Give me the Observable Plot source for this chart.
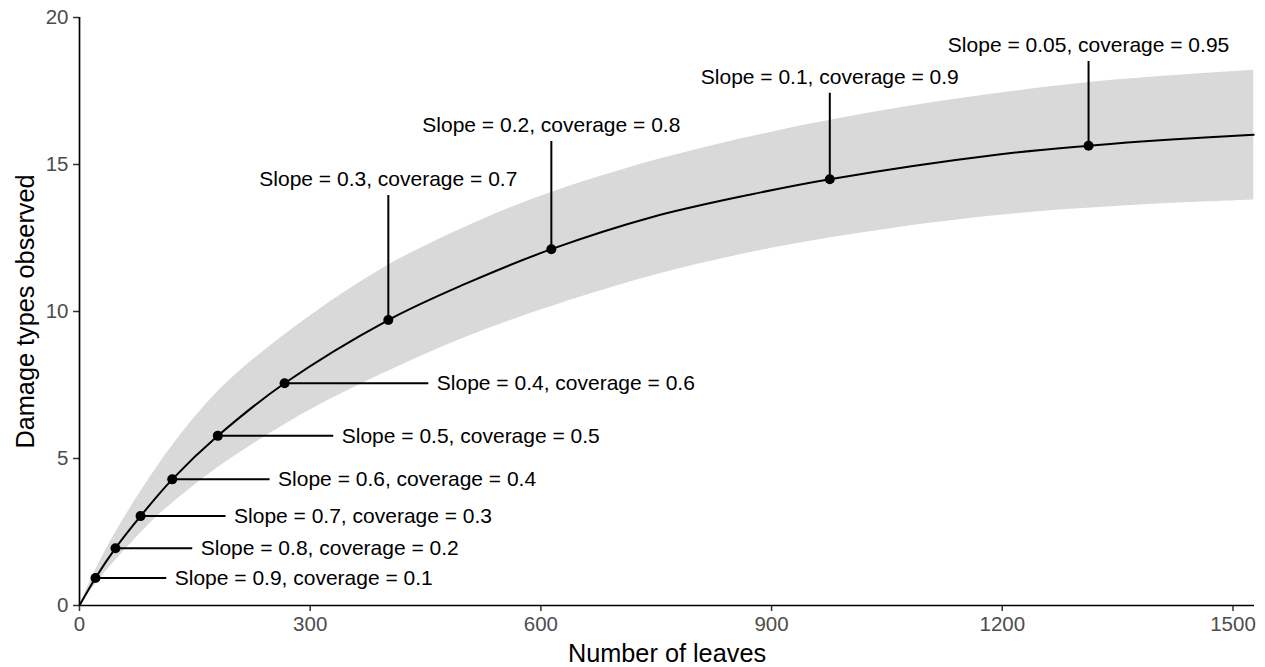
<!DOCTYPE html>
<html>
<head>
<meta charset="utf-8">
<script src="https://cdn.jsdelivr.net/npm/d3@7"></script>
<script src="https://cdn.jsdelivr.net/npm/@observablehq/plot@0.6"></script>
<style>
  html, body { margin: 0; padding: 0; background: #fff; }
  #chart { width: 1265px; height: 667px; }
</style>
</head>
<body>
<div id="chart"></div>
<script>
// ---- data ----
const curveX = [0, 20.8, 46.8, 79.4, 120.6, 179.9, 266.7, 401.6, 500, 613.6, 742.8, 872.9, 975.7, 1198, 1312.2, 1420, 1527];
const curveY = [0, 0.935, 1.95, 3.04, 4.29, 5.77, 7.56, 9.71, 10.92, 12.12, 13.2, 13.98, 14.5, 15.35, 15.64, 15.85, 16.01];

const bandX     = [0, 25, 50, 100, 150, 200, 300, 400, 500, 600, 750, 900, 1050, 1200, 1350, 1527];
const bandLower = [0, 0.86, 1.62, 3.0, 4.1, 5.05, 6.65, 7.95, 9.1, 10.05, 11.25, 12.15, 12.8, 13.28, 13.58, 13.79];
const bandUpper = [0, 1.42, 2.62, 4.68, 6.4, 7.78, 9.85, 11.55, 12.85, 13.92, 15.15, 16.1, 16.85, 17.44, 17.88, 18.21];

const slopes    = [0.9, 0.8, 0.7, 0.6, 0.5, 0.4, 0.3, 0.2, 0.1, 0.05];
const coverages = [0.1, 0.2, 0.3, 0.4, 0.5, 0.6, 0.7, 0.8, 0.9, 0.95];
const pointX    = [20.8, 46.8, 79.4, 120.6, 179.9, 266.7, 401.6, 613.6, 975.7, 1312.2];
const pointY    = [0.935, 1.95, 3.04, 4.29, 5.77, 7.56, 9.71, 12.12, 14.5, 15.64];
// end of each label leader (data units)
const leaderX   = [112.8, 146.6, 189.9, 247.2, 330, 453.6, 401.6, 613.6, 975.7, 1312.2];
const leaderY   = [0.935, 1.95, 3.04, 4.29, 5.77, 7.56, 13.96, 15.8, 17.44, 18.52];

const xTicks = [0, 300, 600, 900, 1200, 1500];
const yTicks = [0, 5, 10, 15, 20];
const xTitle = "Number of leaves";
const yTitle = "Damage types observed";

// ---- tables built from the arrays ----
const curve = curveX.map((x, i) => ({x, y: curveY[i]}));
const band = bandX.map((x, i) => ({x, lo: bandLower[i], hi: bandUpper[i]}));
const points = slopes.map((s, i) => ({
  slope: s, coverage: coverages[i],
  x: pointX[i], y: pointY[i], lx: leaderX[i], ly: leaderY[i],
  label: `Slope = ${s}, coverage = ${coverages[i]}`,
  horizontal: leaderY[i] === pointY[i]
}));
const horiz = points.filter(d => d.horizontal);
const vert = points.filter(d => !d.horizontal);

const font = "'Liberation Sans', Helvetica, Arial, sans-serif";

const chart = Plot.plot({
  width: 1265,
  height: 667,
  marginLeft: 79,
  marginRight: 11,
  marginTop: 17,
  marginBottom: 62,
  style: {fontFamily: font, background: "#fff", overflow: "visible"},
  x: {domain: [0, 1528], ticks: xTicks},
  y: {domain: [0, 20], ticks: yTicks},
  marks: [
    Plot.areaY(band, {x: "x", y1: "lo", y2: "hi", fill: "#d9d9d9", curve: "catmull-rom"}),
    Plot.line(curve, {x: "x", y: "y", stroke: "#000", strokeWidth: 2, curve: "catmull-rom"}),
    Plot.link(points, {x1: "x", y1: "y", x2: "lx", y2: "ly", stroke: "#000", strokeWidth: 2}),
    Plot.dot(points, {x: "x", y: "y", r: 5, fill: "#000"}),
    Plot.text(horiz, {x: "lx", y: "ly", text: "label", textAnchor: "start", dx: 8.5, lineAnchor: "middle", fontSize: 21, fill: "#000"}),
    Plot.text(vert, {x: "lx", y: "ly", text: "label", textAnchor: "middle", dy: -9, lineAnchor: "bottom", fontSize: 21, fill: "#000"}),
    Plot.axisX({ticks: xTicks, tickFormat: d => String(d), tickSize: 6, tickPadding: 5, fontSize: 20.5, color: "#4d4d4d", stroke: "#333", strokeWidth: 1.5, label: null}),
    Plot.axisY({ticks: yTicks, tickFormat: d => String(d), tickSize: 6, tickPadding: 5, fontSize: 20.5, color: "#4d4d4d", stroke: "#333", strokeWidth: 1.5, label: null}),
    Plot.ruleY([0], {stroke: "#000", strokeWidth: 1.7}),
    Plot.ruleX([0], {stroke: "#000", strokeWidth: 1.7}),
    Plot.text([xTitle], {frameAnchor: "bottom", dy: 56, lineAnchor: "bottom", textAnchor: "middle", fontSize: 25.3, fill: "#000"}),
    Plot.text([yTitle], {frameAnchor: "left", dx: -46, rotate: -90, lineAnchor: "bottom", textAnchor: "middle", fontSize: 25.3, fill: "#000"})
  ]
});
document.getElementById("chart").appendChild(chart);
</script>
</body>
</html>
